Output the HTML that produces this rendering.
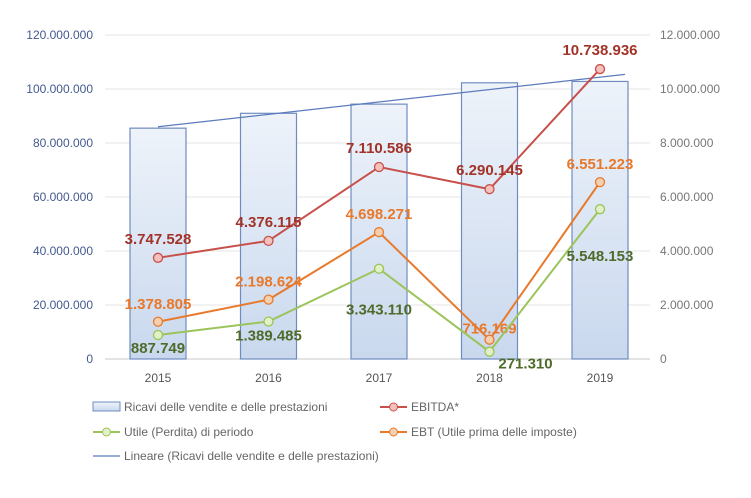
<!DOCTYPE html>
<html><head><meta charset="utf-8"><style>
body{margin:0;background:#fff;}
svg{font-family:"Liberation Sans",sans-serif;}
</style></head><body>
<svg id="c" width="751" height="493"></svg>
<script>
const years=['2015','2016','2017','2018','2019'];
const ricavi=[85500000,91000000,94400000,102300000,102800000];
const ebitda=[3747528,4376115,7110586,6290145,10738936];
const ebt=[1378805,2198624,4698271,716169,6551223];
const utile=[887749,1389485,3343110,271310,5548153];
const leftTicks=['0','20.000.000','40.000.000','60.000.000','80.000.000','100.000.000','120.000.000'];
const rightTicks=['0','2.000.000','4.000.000','6.000.000','8.000.000','10.000.000','12.000.000'];
const ebitdaLabels=['3.747.528','4.376.115','7.110.586','6.290.145','10.738.936'];
const ebtLabels=['1.378.805','2.198.624','4.698.271','716.169','6.551.223'];
const utileLabels=['887.749','1.389.485','3.343.110','271.310','5.548.153'];

const NS='http://www.w3.org/2000/svg';
const svg=document.getElementById('c');
function mk(t,a,p){const e=document.createElementNS(NS,t);for(const k in a)e.setAttribute(k,a[k]);(p||svg).appendChild(e);return e;}
const y0=359,y1=35;
const yL=v=>y0-(v/120000000)*(y0-y1);
const yR=v=>y0-(v/12000000)*(y0-y1);
const x=i=>158+i*110.5;

const defs=mk('defs',{});
const g=mk('linearGradient',{id:'bg',x1:0,y1:0,x2:0,y2:1},defs);
mk('stop',{offset:0,'stop-color':'#eef3fa'},g);mk('stop',{offset:1,'stop-color':'#c9d8ee'},g);

for(let i=0;i<7;i++){
  const yy=yL(i*20000000);
  const l=mk('line',{x1:105,x2:650,y1:yy,y2:yy,stroke:i==0?'#c8c8c8':'#e6e6e6','stroke-width':1});
  
  
  const t=mk('text',{x:93,y:yy+4,'text-anchor':'end','font-size':12,fill:'#44598f'});t.textContent=leftTicks[i];
  
  
  const r=mk('text',{x:660,y:yy+4,'font-size':12,fill:'#777'});r.textContent=rightTicks[i];
  
  
}
years.forEach((yr,i)=>{
  const b=mk('rect',{x:x(i)-28,y:yL(ricavi[i]),width:56,height:y0-yL(ricavi[i]),fill:'url(#bg)',stroke:'#6f8cc0','stroke-width':1.2});
  
  
  const t=mk('text',{x:x(i),y:382,'text-anchor':'middle','font-size':12,fill:'#555'});t.textContent=yr;
  
  
});
// trend line (linear regression)
const n=ricavi.length,mx=(n-1)/2,my=ricavi.reduce((a,b)=>a+b)/n;
let num=0,den=0;ricavi.forEach((v,i)=>{num+=(i-mx)*(v-my);den+=(i-mx)**2;});
const sl=num/den;
const tr=mk('line',{x1:x(0),y1:yL(my-sl*mx),x2:x(n-1)+25,y2:yL(my+sl*(n-1-mx+25/110.5)),stroke:'#5b7bbd','stroke-width':1.3});



function series(vals,labels,col,fillc,tcol,name,offs){
  const pl=mk('polyline',{points:vals.map((v,i)=>x(i)+','+yR(v)).join(' '),fill:'none',stroke:col,'stroke-width':2});
  
  
  vals.forEach((v,i)=>{
    const c=mk('circle',{cx:x(i),cy:yR(v),r:4.5,fill:fillc,stroke:col,'stroke-width':1.3});
    
    
    const t=mk('text',{x:x(i)+offs[i][0],y:yR(v)+offs[i][1],'text-anchor':'middle','font-size':15,'font-weight':'bold',fill:tcol});
    t.textContent=labels[i];
    
    
  });
}
series(ebitda,ebitdaLabels,'#c8504a','#f3c2bd','#a33328','ebitda',[[0,-14],[0,-14],[0,-14],[0,-14],[0,-14]]);
series(ebt,ebtLabels,'#e77a2c','#f6cfb0','#e8782a','ebt',[[0,-13],[0,-13],[0,-13],[0,-6],[0,-13]]);
series(utile,utileLabels,'#9bc45a','#e2f0c8','#4f6b2a','utile',[[0,18],[0,19],[0,46],[36,17],[0,52]]);

// legend
function leg(xx,yy,type,col,fillc,label){
  if(type=='bar'){const r=mk('rect',{x:xx,y:yy-5,width:27,height:9,fill:'url(#bg)',stroke:'#6f8cc0'});}
  else{mk('line',{x1:xx,x2:xx+27,y1:yy,y2:yy,stroke:col,'stroke-width':type=='dot'?2:1.3});
    if(type=='dot')mk('circle',{cx:xx+13.5,cy:yy,r:4,fill:fillc,stroke:col});}
  const t=mk('text',{x:xx+31,y:yy+4,'font-size':12,fill:'#666'});t.textContent=label;
  
  
}
leg(93,407,'bar','','','Ricavi delle vendite e delle prestazioni');
leg(380,407,'dot','#c8504a','#f3c2bd','EBITDA*');
leg(93,432,'dot','#9bc45a','#e2f0c8','Utile (Perdita) di periodo');
leg(380,432,'dot','#e77a2c','#f6cfb0','EBT (Utile prima delle imposte)');
leg(93,456,'line','#5b7bbd','','Lineare (Ricavi delle vendite e delle prestazioni)');
</script>
</body></html>
